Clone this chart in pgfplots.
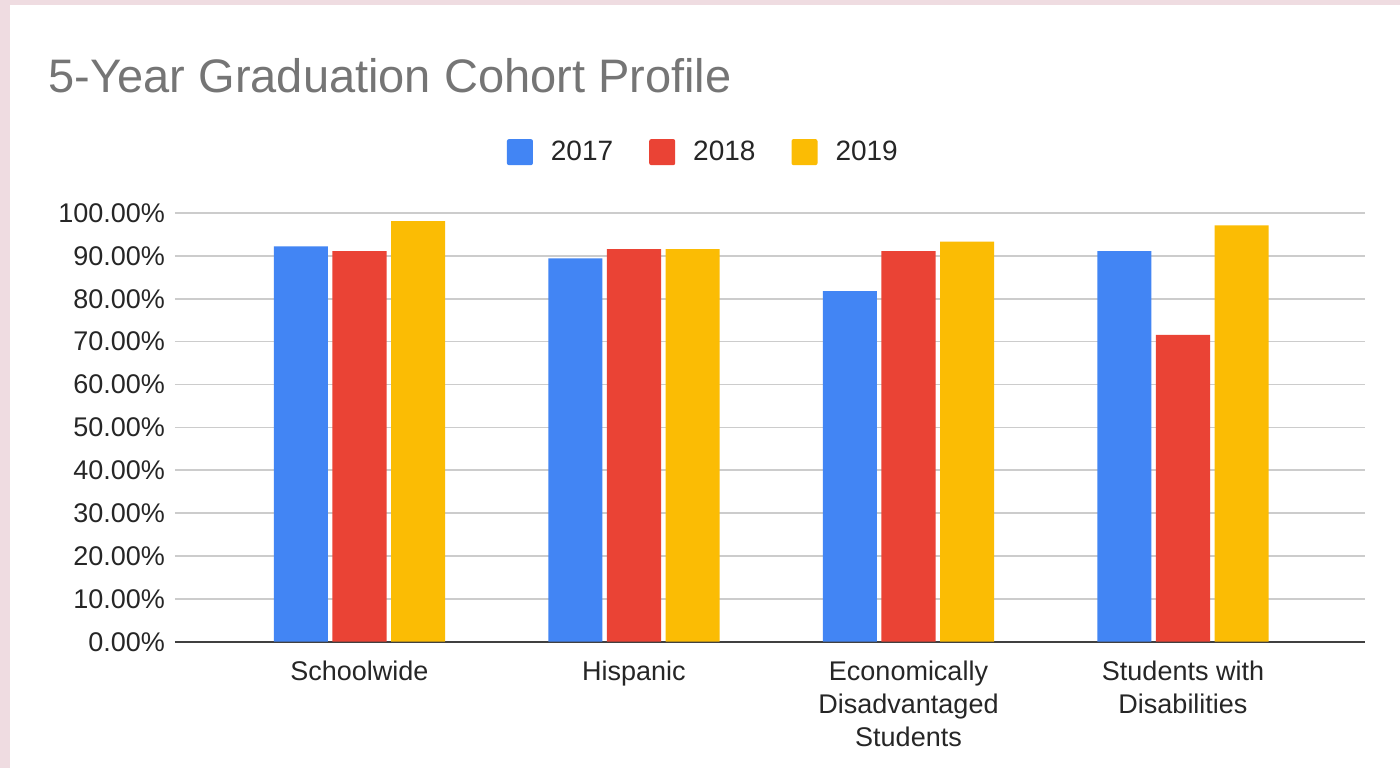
\documentclass[border=0pt]{standalone}
\usepackage{fontspec}
\setmainfont{Liberation Sans}
\usepackage{pgfplots}
\pgfplotsset{compat=1.18}
\definecolor{cblue}{HTML}{4285F4}
\definecolor{cred}{HTML}{EA4335}
\definecolor{cyellow}{HTML}{FBBC04}
\definecolor{titlegray}{HTML}{757575}
\definecolor{gridgray}{HTML}{CCCCCC}
\definecolor{pinkbg}{HTML}{EFDCE1}

\begin{document}
\begin{tikzpicture}
% background card (1px = 0.5pt, axis origin at pixel (175,641.7))
\fill[pinkbg] (-87.5pt,-63.15pt) rectangle (612.5pt,320.85pt);
\fill[white] (-82.5pt,-63.15pt) rectangle (612.5pt,318.35pt);
\useasboundingbox (-87.5pt,-63.15pt) rectangle (612.5pt,320.85pt);
\begin{axis}[
    at={(0,0)}, anchor=south west,
    scale only axis,
    width=595pt, height=214.35pt,
    ybar, bar width=0.197,
    xmin=-0.672, xmax=3.663,
    ymin=0, ymax=100,
    xtick=data,
    xticklabels={Schoolwide, Hispanic, {Economically\\Disadvantaged\\Students}, {Students with\\Disabilities}},
    ytick={0,10,...,100},
    yticklabel={\pgfmathprintnumber[fixed,fixed zerofill,precision=2]{\tick}\%},
    /pgf/number format/assume math mode=true,
    major tick length=0pt,
    axis line style={draw=none},
    ymajorgrids, grid style={draw=gridgray, line width=0.75pt},
    extra y ticks={0}, extra y tick labels={},
    extra y tick style={grid style={draw=black!75, line width=1pt}},
    tick label style={font=\fontsize{13.5}{16.5}\selectfont, text=black!85},
    yticklabel style={xshift=-1.5pt},
    xticklabel style={align=center, yshift=-6pt},
    title={5-Year Graduation Cohort Profile},
    title style={at={(-0.112,1.254)}, anchor=base west, font=\fontsize{23.5}{27}\selectfont, text=titlegray},
    legend columns=3,
    legend style={at={(0.444,1.142)}, anchor=center, draw=none, fill=none,
        font=\fontsize{14}{17}\selectfont, text=black!85,
        /tikz/every even column/.append style={column sep=17pt},
        nodes={inner sep=1pt}},
    legend image code/.code={\fill[#1,rounded corners=1pt] (0pt,-6.5pt) rectangle (13pt,6.5pt);},
]
\addplot[fill=cblue, draw=none, bar shift=-0.2136] coordinates {(0,92.2) (1,89.4) (2,81.8) (3,91.1)};
\addplot[fill=cred, draw=none, bar shift=0] coordinates {(0,91.1) (1,91.6) (2,91.1) (3,71.6)};
\addplot[fill=cyellow, draw=none, bar shift=0.2136] coordinates {(0,98.1) (1,91.6) (2,93.3) (3,97.1)};
\legend{\hspace{8pt}2017,\hspace{8pt}2018,\hspace{8pt}2019}
\end{axis}
\end{tikzpicture}
\end{document}
